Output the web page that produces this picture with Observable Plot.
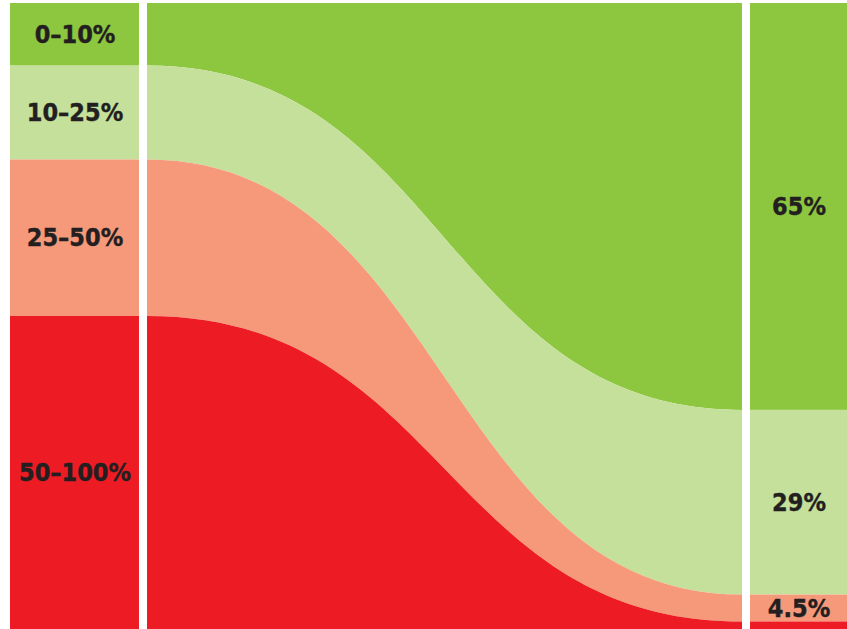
<!DOCTYPE html>
<html>
<head>
<meta charset="utf-8">
<script src="https://cdn.jsdelivr.net/npm/d3@7"></script>
<script src="https://cdn.jsdelivr.net/npm/@observablehq/plot@0.6"></script>
<style>
  html, body { margin: 0; padding: 0; background: #ffffff; }
  #chart svg { display: block; }
</style>
</head>
<body>
<div id="chart"></div>
<script>
// ---- data ----
const categories = ["0–10%", "10–25%", "25–50%", "50–100%"];
const beforeValues = [10, 15, 25, 50];
const afterValues = [65, 29.5, 4.3, 1.2];
const afterLabels = ["65%", "29%", "4.5%", ""];
const colors = ["#8dc63f", "#c5e09b", "#f6997a", "#ed1c24"];

// ---- layout (stage positions in x-units; flow runs 0 → 1) ----
const leftBar = [-0.2303, -0.0135];
const rightBar = [1.0135, 1.1765];
const flowStart = 0, flowEnd = 1;

const bars = [
  ...categories.map((c, i) => ({cat: c, x1: leftBar[0], x2: leftBar[1], value: beforeValues[i], label: c})),
  ...categories.map((c, i) => ({cat: c, x1: rightBar[0], x2: rightBar[1], value: afterValues[i], label: afterLabels[i]}))
];
const flows = [
  ...categories.map((c, i) => ({cat: c, x: flowStart, value: beforeValues[i]})),
  ...categories.map((c, i) => ({cat: c, x: flowEnd, value: afterValues[i]}))
];
const labels = bars.map(d => ({...d, xm: (d.x1 + d.x2) / 2}));

const font = "'DejaVu Sans Condensed', 'DejaVu Sans', sans-serif";

const chart = Plot.plot({
  width: 847,
  height: 629,
  marginTop: 3,
  marginBottom: 0,
  marginLeft: 10,
  marginRight: 0,
  style: {background: "#ffffff", fontFamily: font},
  x: {domain: [leftBar[0], rightBar[1]], axis: null},
  y: {domain: [0, 100], reverse: true, axis: null},
  color: {domain: categories, range: colors},
  marks: [
    Plot.areaY(flows, {x: "x", y: "value", z: "cat", fill: "cat", curve: "bump-x", order: categories}),
    Plot.rectY(bars, {x1: "x1", x2: "x2", y: "value", z: "cat", fill: "cat", order: categories}),
    Plot.text(labels, Plot.stackY({
      x: "xm", y: "value", z: "cat", order: categories,
      text: "label",
      fill: "#231f20",
      stroke: "#231f20",
      strokeWidth: 0.4,
      fontSize: 25,
      fontWeight: "bold",
      fontFamily: font,
      textAnchor: "middle"
    }))
  ]
});
document.getElementById("chart").appendChild(chart);
</script>
</body>
</html>
